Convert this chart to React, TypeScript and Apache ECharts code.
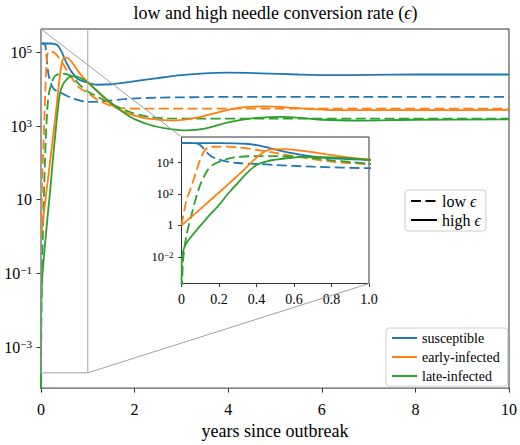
import React, { useEffect, useRef } from 'react';
import * as echarts from 'echarts';

const FONT = "'Liberation Serif', 'DejaVu Serif', serif";
const EPS = '\u03F5';

// Years since outbreak and compartment sizes, low (dashed) and high (solid) needle conversion rate
const susceptibleLowT = [0, 0.06, 0.09, 0.11, 0.13, 0.16, 0.2, 0.25, 0.3, 0.4, 0.5, 0.7, 1.0, 1.3, 1.9, 2.5, 3, 4, 5, 7, 10];
const susceptibleLow = [1.74e5, 1.74e5, 1.58e5, 1.0e5, 5.2e4, 2.5e4, 1.58e4, 1.12e4, 9.5e3, 8.3e3, 7.1e3, 5.5e3, 4.5e3, 4.7e3, 5.5e3, 5.9e3, 6.0e3, 6.2e3, 6.2e3, 6.2e3, 6.2e3];

const susceptibleHighT = [0, 0.1, 0.2, 0.28, 0.34, 0.4, 0.47, 0.55, 0.65, 0.8, 1.0, 1.2, 1.5, 1.9, 2.5, 3.0, 3.5, 4.0, 4.7, 5.5, 6.2, 7, 8, 10];
const susceptibleHigh = [1.74e5, 1.74e5, 1.74e5, 1.7e5, 1.6e5, 1.3e5, 8.5e4, 5.0e4, 3.0e4, 1.85e4, 1.5e4, 1.32e4, 1.36e4, 1.58e4, 2.0e4, 2.4e4, 2.7e4, 2.8e4, 2.7e4, 2.5e4, 2.4e4, 2.45e4, 2.5e4, 2.5e4];

const earlyLowT = [0, 0.025, 0.05, 0.075, 0.1, 0.125, 0.15, 0.2, 0.3, 0.4, 0.5, 0.6, 0.8, 1.0, 1.2, 1.5, 1.8, 2.2, 3, 5, 7, 10];
const earlyLow = [1, 35, 250, 2.0e3, 1.6e4, 6.3e4, 1.0e5, 1.05e5, 9.5e4, 6.6e4, 4.2e4, 2.6e4, 1.15e4, 7.9e3, 5.2e3, 3.5e3, 3.0e3, 2.95e3, 2.95e3, 2.95e3, 2.95e3, 2.95e3];

const earlyHighT = [0, 0.1, 0.2, 0.27, 0.33, 0.38, 0.43, 0.48, 0.55, 0.65, 0.8, 0.9, 1.0, 1.2, 1.5, 1.9, 2.3, 2.8, 3.3, 3.8, 4.3, 4.8, 5.4, 6.1, 7, 8, 10];
const earlyHigh = [1, 11, 126, 710, 3.2e3, 1.26e4, 4.0e4, 6.9e4, 7.2e4, 5.6e4, 3.0e4, 2.1e4, 1.58e4, 8.9e3, 3.8e3, 2.1e3, 1.58e3, 1.41e3, 1.66e3, 2.4e3, 3.2e3, 3.4e3, 3.1e3, 2.75e3, 2.7e3, 2.7e3, 2.75e3];

const lateLowT = [0, 0.005, 0.012, 0.025, 0.04, 0.055, 0.07, 0.085, 0.1, 0.115, 0.13, 0.15, 0.175, 0.2, 0.25, 0.3, 0.4, 0.5, 0.6, 0.7, 0.8, 0.9, 1.0, 1.2, 1.5, 1.9, 2.3, 2.7, 3.5, 5, 7, 10];
const lateLow = [1e-6, 1e-3, 0.016, 0.19, 1.12, 5.6, 28, 112, 400, 1.0e3, 2.2e3, 5.0e3, 8.3e3, 1.12e4, 1.78e4, 2.3e4, 2.6e4, 2.6e4, 2.4e4, 2.0e4, 1.41e4, 1.1e4, 8.7e3, 6.3e3, 4.0e3, 2.4e3, 1.78e3, 1.62e3, 1.58e3, 1.58e3, 1.58e3, 1.58e3];

const lateHighT = [0, 0.002, 0.01, 0.02, 0.044, 0.088, 0.12, 0.158, 0.2, 0.247, 0.3, 0.35, 0.4, 0.46, 0.56, 0.65, 0.76, 0.9, 1.0, 1.2, 1.5, 1.9, 2.3, 2.7, 3.1, 3.5, 4.0, 4.6, 5.2, 6.0, 6.8, 8, 10];
const lateHigh = [1e-6, 6.3e-3, 0.025, 0.056, 0.148, 0.65, 1.78, 5.8, 20, 100, 500, 2.2e3, 7.1e3, 1.26e4, 1.9e4, 2.24e4, 2.2e4, 1.86e4, 1.51e4, 8.9e3, 4.2e3, 1.78e3, 1.1e3, 850, 760, 850, 1.26e3, 1.66e3, 1.78e3, 1.48e3, 1.41e3, 1.48e3, 1.51e3];

// Axis ranges and tick labels
const MAIN_X = [0, 10];
const MAIN_Y = [7.7e-5, 4.3e5];
const MAIN_Y_TICKS = [1e-3, 1e-1, 10, 1e3, 1e5];
const INSET_X = [0, 1];
const INSET_Y = [2.0e-4, 4.3e5];
const INSET_Y_TICKS = [1e-2, 1, 1e2, 1e4];

const GROUPS = ['susceptible', 'early-infected', 'late-infected'];
const COLORS = ['#1f77b4', '#ff7f0e', '#2ca02c'];
const LOW = `low ${EPS}`;
const HIGH = `high ${EPS}`;

const curves = [
  { group: 0, dashed: true, t: susceptibleLowT, v: susceptibleLow },
  { group: 1, dashed: true, t: earlyLowT, v: earlyLow },
  { group: 2, dashed: true, t: lateLowT, v: lateLow },
  { group: 0, dashed: false, t: susceptibleHighT, v: susceptibleHigh },
  { group: 1, dashed: false, t: earlyHighT, v: earlyHigh },
  { group: 2, dashed: false, t: lateHighT, v: lateHigh },
];

const DASH = [10, 4.5];

const powLabel = (v: number) => {
  const e = Math.round(Math.log10(v));
  if (e === 0) return '{b|1}';
  if (e === 1) return '{b|10}';
  return `{b|10}{s|${e < 0 ? '\u2212' + -e : e}}`;
};

const powRich = (base: number, sup: number, lift: number) => ({
  b: { fontSize: base, fontFamily: FONT, color: '#000', verticalAlign: 'bottom' },
  s: { fontSize: sup, fontFamily: FONT, color: '#000', verticalAlign: 'top', padding: [0, 0, lift, 0] },
});

export default function App() {
  const ref = useRef<HTMLDivElement>(null);

  useEffect(() => {
    if (!ref.current) return;
    const chart = echarts.init(ref.current, null, { renderer: 'svg' });

    const curveSeries: any[] = [];
    [0, 1].forEach((gi) => {
      curves.forEach((c) => {
        curveSeries.push({
          type: 'line',
          name: c.dashed ? `${GROUPS[c.group]}, ${LOW}` : GROUPS[c.group],
          xAxisIndex: gi,
          yAxisIndex: gi,
          data: c.t.map((x, i) => [x, c.v[i]]),
          symbol: 'none',
          smooth: 0.3,
          clip: true,
          color: COLORS[c.group],
          lineStyle: { width: 1.8, color: COLORS[c.group], type: c.dashed ? DASH : 'solid' },
          z: 2,
        });
      });
    });

    const rectSeries = {
      type: 'line',
      name: 'zoom',
      xAxisIndex: 0,
      yAxisIndex: 0,
      data: [
        [INSET_X[0], INSET_Y[0]],
        [INSET_X[1], INSET_Y[0]],
        [INSET_X[1], INSET_Y[1]],
        [INSET_X[0], INSET_Y[1]],
        [INSET_X[0], INSET_Y[0]],
      ],
      symbol: 'none',
      silent: true,
      lineStyle: { color: '#a0a0a0', width: 1 },
      z: 3,
    };

    const styleSeries = [
      { type: 'line', name: LOW, data: [], symbol: 'none', color: '#000', lineStyle: { color: '#000', width: 1.8, type: DASH } },
      { type: 'line', name: HIGH, data: [], symbol: 'none', color: '#000', lineStyle: { color: '#000', width: 1.8 } },
    ];

    const gridStyle = { show: true, borderColor: '#333', borderWidth: 1 };
    const legendBox = {
      orient: 'vertical',
      backgroundColor: 'rgba(255,255,255,0.8)',
      borderColor: '#cccccc',
      borderWidth: 1,
      borderRadius: 3,
      selectedMode: false,
      itemStyle: { opacity: 0, borderWidth: 0 },
    };

    chart.setOption({
      animation: false,
      textStyle: { fontFamily: FONT, color: '#000' },
      title: {
        text: `low and high needle conversion rate ({e|${EPS}})`,
        left: 275.5,
        textAlign: 'center',
        top: 4,
        padding: 0,
        textStyle: {
          fontFamily: FONT,
          fontSize: 18,
          fontWeight: 'normal',
          color: '#000',
          rich: { e: { fontFamily: FONT, fontSize: 18, fontStyle: 'italic', color: '#000' } },
        },
      },
      grid: [
        { left: 41, top: 29, width: 469, height: 364, ...gridStyle, backgroundColor: 'transparent' },
        { left: 181.5, top: 137, width: 187.5, height: 146.5, ...gridStyle, backgroundColor: '#fff' },
      ],
      xAxis: [
        {
          type: 'value',
          gridIndex: 0,
          min: MAIN_X[0],
          max: MAIN_X[1],
          interval: 2,
          name: 'years since outbreak',
          nameLocation: 'middle',
          nameGap: 32,
          nameTextStyle: { fontFamily: FONT, fontSize: 18, color: '#000' },
          axisLine: { show: false },
          axisTick: { show: true, length: 4.5, lineStyle: { color: '#333', width: 1 } },
          axisLabel: { fontFamily: FONT, fontSize: 16, color: '#000', margin: 13 },
          splitLine: { show: false },
        },
        {
          type: 'value',
          gridIndex: 1,
          min: INSET_X[0],
          max: INSET_X[1],
          interval: 0.2,
          axisLine: { show: false },
          axisTick: { show: true, length: 3.5, lineStyle: { color: '#333', width: 1 } },
          axisLabel: {
            fontFamily: FONT,
            fontSize: 14,
            color: '#000',
            margin: 9,
            formatter: (v: number) => (v === 0 ? '0' : v.toFixed(1)),
          },
          splitLine: { show: false },
        },
      ],
      yAxis: [
        {
          type: 'log',
          logBase: 10,
          gridIndex: 0,
          min: MAIN_Y[0],
          max: MAIN_Y[1],
          axisLine: { show: false },
          axisTick: { show: true, length: 4.5, customValues: MAIN_Y_TICKS, lineStyle: { color: '#333', width: 1 } },
          axisLabel: {
            customValues: MAIN_Y_TICKS,
            margin: 9,
            fontFamily: FONT,
            fontSize: 16,
            color: '#000',
            formatter: powLabel,
            rich: powRich(16, 11, 6),
          },
          splitLine: { show: false },
        },
        {
          type: 'log',
          logBase: 10,
          gridIndex: 1,
          min: INSET_Y[0],
          max: INSET_Y[1],
          axisLine: { show: false },
          axisTick: { show: true, length: 3.5, customValues: INSET_Y_TICKS, lineStyle: { color: '#333', width: 1 } },
          axisLabel: {
            customValues: INSET_Y_TICKS,
            margin: 8,
            fontFamily: FONT,
            fontSize: 12.5,
            color: '#000',
            formatter: powLabel,
            rich: powRich(12.5, 9, 4),
          },
          splitLine: { show: false },
        },
      ],
      legend: [
        {
          ...legendBox,
          data: GROUPS,
          left: 386,
          top: 328,
          itemWidth: 25,
          itemHeight: 14,
          itemGap: 5,
          padding: [3, 8, 3, 5],
          textStyle: { fontFamily: FONT, fontSize: 14, color: '#000' },
        },
        {
          ...legendBox,
          data: [LOW, HIGH],
          left: 405,
          top: 190,
          itemWidth: 26,
          itemHeight: 16,
          itemGap: 3,
          padding: [3, 5, 3, 5],
          formatter: (name: string) => name.replace(EPS, `{e|${EPS}}`),
          textStyle: {
            fontFamily: FONT,
            fontSize: 16,
            color: '#000',
            rich: { e: { fontFamily: FONT, fontSize: 16, fontStyle: 'italic', color: '#000' } },
          },
        },
      ],
      series: [...curveSeries, rectSeries, ...styleSeries],
    });

    // Connector lines from the zoom rectangle to the inset corners
    const a0 = chart.convertToPixel({ gridIndex: 0 }, [INSET_X[0], INSET_Y[1]]) as number[];
    const a1 = chart.convertToPixel({ gridIndex: 1 }, [INSET_X[0], INSET_Y[1]]) as number[];
    const b0 = chart.convertToPixel({ gridIndex: 0 }, [INSET_X[1], INSET_Y[0]]) as number[];
    const b1 = chart.convertToPixel({ gridIndex: 1 }, [INSET_X[1], INSET_Y[0]]) as number[];
    const connector = (p: number[], q: number[]) => ({
      type: 'line',
      z: 3,
      silent: true,
      shape: { x1: p[0], y1: p[1], x2: q[0], y2: q[1] },
      style: { stroke: '#a0a0a0', lineWidth: 1 },
    });
    chart.setOption({ graphic: [connector(a0, a1), connector(b0, b1)] });

    return () => chart.dispose();
  }, []);

  return <div ref={ref} style={{ position: 'absolute', left: 0, top: 0, width: 520, height: 445 }} />;
}
